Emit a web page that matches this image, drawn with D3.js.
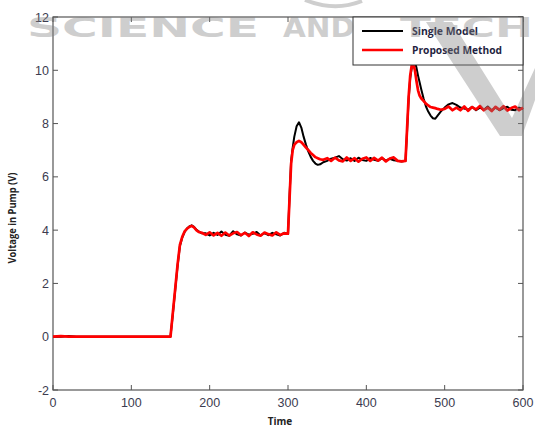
<!DOCTYPE html>
<html>
<head>
<meta charset="utf-8">
<script src="https://cdn.jsdelivr.net/npm/d3@7"></script>
<style>
  body { margin: 0; background: #fff; }
  svg { display: block; }
</style>
</head>
<body>
<div id="chart"></div>
<script>
// data
const time = [0,10,20,30,40,50,60,70,80,90,100,110,120,130,140,150,
  153,156,159,162,165,168,171,174,177,180,183,186,190,
  195,200,205,210,215,220,225,230,235,240,245,250,255,260,265,270,275,280,285,290,295,300,
  302,304,306,308,311,314,317,320,323,326,329,332,335,338,341,345,
  350,355,360,365,370,375,380,385,390,395,400,405,410,415,420,425,430,435,440,445,450,
  452,454,456,458,460,462,464,466,468,470,473,476,479,482,485,488,491,495,
  500,505,510,515,520,525,530,535,540,545,550,555,560,565,570,575,580,585,590,595,600];

const singleModel = [0,0,0.03,0,0,0,0,0,0,0,0,0,0,0,0,0,
  0.85,1.75,2.65,3.4,3.72,3.93,4.06,4.14,4.18,4.12,4.02,3.95,3.88,
  3.88,3.8,3.9,3.82,3.95,3.83,3.79,3.96,3.84,3.8,3.91,3.83,3.86,3.93,3.8,3.89,3.81,3.9,3.84,3.8,3.9,3.86,
  5.3,6.6,7.1,7.5,7.9,8.05,7.85,7.5,7.2,6.95,6.75,6.6,6.5,6.45,6.47,6.55,
  6.6,6.68,6.72,6.78,6.66,6.61,6.7,6.6,6.72,6.63,6.6,6.71,6.64,6.6,6.7,6.61,6.68,6.62,6.6,6.58,6.6,
  7.7,8.9,9.7,10.1,10.3,10.3,10.1,9.8,9.55,9.3,8.95,8.65,8.45,8.3,8.2,8.18,8.3,8.45,
  8.6,8.72,8.77,8.7,8.6,8.56,8.52,8.63,8.5,8.6,8.52,8.64,8.5,8.6,8.5,8.58,8.63,8.52,8.5,8.6,8.55];

const proposedMethod = [0,0.02,0,0,0,0,0,0,0,0,0,0,0,0,0,0,
  0.9,1.8,2.7,3.45,3.75,3.95,4.05,4.12,4.16,4.1,4.0,3.93,3.9,
  3.82,3.92,3.8,3.9,3.79,3.91,3.8,3.88,3.93,3.81,3.9,3.78,3.92,3.84,3.79,3.91,3.85,3.8,3.92,3.82,3.88,3.87,
  5.2,6.5,7.0,7.2,7.3,7.35,7.3,7.2,7.1,7.0,6.9,6.82,6.74,6.7,6.66,6.64,
  6.7,6.6,6.72,6.62,6.58,6.73,6.6,6.7,6.57,6.68,6.73,6.6,6.71,6.61,6.72,6.58,6.69,6.73,6.6,6.58,6.6,
  7.8,9.0,9.8,10.2,10.25,10.0,9.6,9.25,9.05,8.95,8.85,8.75,8.68,8.62,8.6,8.58,8.55,8.52,
  8.55,8.64,8.5,8.6,8.5,8.64,8.48,8.62,8.53,8.66,8.5,8.6,8.47,8.63,8.52,8.65,8.49,8.58,8.64,8.5,8.6];

const xTicks = [0,100,200,300,400,500,600];
const yTicks = [-2,0,2,4,6,8,10,12];
const seriesNames = ["Single Model", "Proposed Method"];
const seriesColors = ["#000000", "#ff0000"];

// layout
const width = 535, height = 428;
const margin = {top: 17, right: 12, bottom: 38, left: 53};
const innerW = width - margin.left - margin.right;
const innerH = height - margin.top - margin.bottom;

const svg = d3.select("#chart").append("svg")
    .attr("width", width)
    .attr("height", height);

const x = d3.scaleLinear().domain([0, 600]).range([margin.left, margin.left + innerW]);
const y = d3.scaleLinear().domain([-2, 12]).range([margin.top + innerH, margin.top]);

const axisColor = "#555";
const labelColor = "#3c3c50";
const tickLen = 5;

// box + ticks (matlab style, inward on all sides)
const frame = svg.append("g");
frame.append("rect")
    .attr("x", x(0)).attr("y", y(12))
    .attr("width", x(600) - x(0)).attr("height", y(-2) - y(12))
    .attr("fill", "none").attr("stroke", axisColor).attr("stroke-width", 1.2);

xTicks.forEach(t => {
    frame.append("line").attr("x1", x(t)).attr("x2", x(t))
        .attr("y1", y(-2)).attr("y2", y(-2) - tickLen)
        .attr("stroke", axisColor);
    frame.append("line").attr("x1", x(t)).attr("x2", x(t))
        .attr("y1", y(12)).attr("y2", y(12) + tickLen)
        .attr("stroke", axisColor);
});
yTicks.forEach(v => {
    frame.append("line").attr("x1", x(0)).attr("x2", x(0) + tickLen)
        .attr("y1", y(v)).attr("y2", y(v))
        .attr("stroke", axisColor);
    frame.append("line").attr("x1", x(600)).attr("x2", x(600) - tickLen)
        .attr("y1", y(v)).attr("y2", y(v))
        .attr("stroke", axisColor);
});

// tick labels
svg.append("g").selectAll("text")
    .data(xTicks)
    .join("text")
        .attr("x", d => x(d))
        .attr("y", y(-2) + 17)
        .attr("text-anchor", "middle")
        .attr("font-family", "Liberation Sans, Arial, sans-serif")
        .attr("font-size", 12.5)
        .attr("fill", labelColor)
        .text(d => d);

svg.append("g").selectAll("text")
    .data(yTicks)
    .join("text")
        .attr("x", x(0) - 4)
        .attr("y", d => y(d) + 4.5)
        .attr("text-anchor", "end")
        .attr("font-family", "Liberation Sans, Arial, sans-serif")
        .attr("font-size", 12.5)
        .attr("fill", labelColor)
        .text(d => d);

// axis titles
svg.append("text")
    .attr("x", 280).attr("y", 425)
    .attr("text-anchor", "middle")
    .attr("font-family", "Open Sans, sans-serif")
    .attr("font-weight", "bold")
    .attr("font-size", 10)
    .attr("fill", "#222")
    .text("Time");

svg.append("text")
    .attr("transform", "translate(16,218) rotate(-90)")
    .attr("text-anchor", "middle")
    .attr("font-family", "Open Sans, sans-serif")
    .attr("font-weight", "bold")
    .attr("font-size", 10)
    .attr("fill", "#222")
    .attr("textLength", 91)
    .attr("lengthAdjust", "spacingAndGlyphs")
    .text("Voltage in Pump (V)");

// lines
const line = d3.line()
    .x((d, i) => x(time[i]))
    .y(d => y(d));

svg.append("path")
    .datum(singleModel)
    .attr("fill", "none")
    .attr("stroke", seriesColors[0])
    .attr("stroke-width", 2)
    .attr("stroke-linejoin", "round")
    .attr("d", line);

svg.append("path")
    .datum(proposedMethod)
    .attr("fill", "none")
    .attr("stroke", seriesColors[1])
    .attr("stroke-width", 2.7)
    .attr("stroke-linejoin", "round")
    .attr("d", line);

// legend
const legend = svg.append("g");
legend.append("rect")
    .attr("x", 353).attr("y", y(12))
    .attr("width", x(600) - 353).attr("height", 48)
    .attr("fill", "#fff").attr("stroke", "#333").attr("stroke-width", 1);

const legendW = [66, 90];
seriesNames.forEach((name, i) => {
    const ly = 31 + i * 19;
    legend.append("line")
        .attr("x1", 362).attr("x2", 403)
        .attr("y1", ly).attr("y2", ly)
        .attr("stroke", seriesColors[i])
        .attr("stroke-width", i ? 2.5 : 2);
    legend.append("text")
        .attr("x", 412).attr("y", ly + 4)
        .attr("font-family", "Open Sans, sans-serif")
        .attr("font-weight", "bold")
        .attr("font-size", 10.5)
        .attr("fill", "#1f1f3f")
        .attr("textLength", legendW[i])
        .attr("lengthAdjust", "spacingAndGlyphs")
        .text(name);
});

// publisher watermark, faded over the figure
const wm = svg.append("g")
    .attr("fill", "#808080")
    .attr("opacity", 0.38);

[["SCIENCE", 27, 232], ["AND", 283, 72], ["TECH", 400, 133]].forEach(([w, wx, wl]) => {
    wm.append("text")
        .attr("x", wx).attr("y", 37)
        .attr("font-family", "DejaVu Sans, sans-serif")
        .attr("font-weight", "bold")
        .attr("font-size", 27)
        .attr("textLength", wl)
        .attr("lengthAdjust", "spacingAndGlyphs")
        .text(w);
});

wm.append("path")
    .attr("d", "M426,22 L452,22 L512,118 L535,68 L535,100 L522,136 L500,136 Z");

wm.append("path")
    .attr("d", "M305,0 Q335,12 362,1")
    .attr("fill", "none")
    .attr("stroke", "#808080")
    .attr("stroke-width", 4);
</script>
</body>
</html>
